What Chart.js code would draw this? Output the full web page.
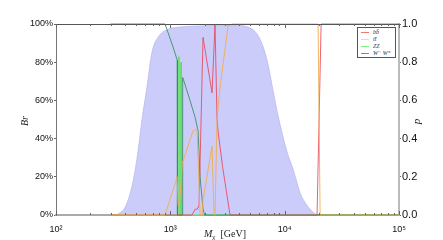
<!DOCTYPE html>
<html><head><meta charset="utf-8">
<script src="https://cdn.jsdelivr.net/npm/chart.js@4/dist/chart.umd.min.js"></script>
<style>
html,body{margin:0;padding:0;background:#fff;}
#wrap{position:relative;width:443px;height:240px;overflow:hidden;}
canvas{display:block;}
.t{position:absolute;font-family:"Liberation Serif","DejaVu Serif",serif;color:#222;white-space:nowrap;line-height:1;}
#legend{position:absolute;left:357px;top:27px;width:39px;height:31px;border:1px solid #555;background:#fff;box-sizing:border-box;}
#legend .row{position:absolute;left:0;height:7px;width:100%;}
#legend .ln{position:absolute;left:3px;top:3px;width:8px;height:1px;}
#legend .lb{position:absolute;left:15px;top:0;font-family:"Liberation Serif","DejaVu Serif",serif;font-style:italic;font-size:6px;line-height:7px;color:#333;white-space:nowrap;}
</style></head><body>
<div id="wrap"><canvas id="c" width="443" height="240"></canvas>
<div class="t" style="left:204px;top:229px;font-size:10px;"><i>M</i><sub style="font-size:7px;vertical-align:-2px">χ</sub>&nbsp;&nbsp;[GeV]</div>
<div class="t" style="left:20px;top:116px;font-size:10px;transform:rotate(-90deg);"><i>Br</i></div>
<div class="t" style="left:414px;top:116px;font-size:11px;transform:rotate(-90deg);"><i>p</i></div>
<div id="legend">
 <div class="row" style="top:1px"><div class="ln" style="background:#f07a7a"></div><div class="lb">bb̄</div></div>
 <div class="row" style="top:8px"><div class="ln" style="background:#ffd890"></div><div class="lb">tt̄</div></div>
 <div class="row" style="top:15px"><div class="ln" style="background:#7cf27c"></div><div class="lb">ZZ</div></div>
 <div class="row" style="top:22px"><div class="ln" style="background:#4fae5a"></div><div class="lb">W⁻ W⁺</div></div>
</div>
</div>
<script>
// ---- data (mass in GeV, branching ratio in %, p in [0,1]) ----
const pMass  = [342, 402, 462, 521, 565, 625, 690, 780, 935, 1291, 1820, 3327, 4977, 6092, 7015, 7925, 8754, 10495, 11838, 13096, 13640, 15709, 17700, 19190];
const pValue = [0, 0.04, 0.15, 0.33, 0.50, 0.67, 0.85, 0.93, 0.97, 0.985, 0.99, 0.995, 0.98, 0.92, 0.81, 0.65, 0.52, 0.33, 0.24, 0.15, 0.115, 0.05, 0.015, 0];

const bbMass = [300, 1548, 1650, 1714, 1783, 1932, 2316, 2460, 2562, 2613, 2870, 3327, 19190, 20840, 100000];
const bbBr   = [0, 0, 3, 3, 5, 93, 64, 100, 50, 44, 25, 0, 0, 100, 100];

const ttMass = [300, 899, 1122, 1146, 1170, 1220, 1270, 1580, 1714, 1820, 1894, 1932, 2316, 2412, 2460, 2562, 2722, 3199, 3467, 18840, 19600, 20420, 100000];
const ttBr   = [0, 0, 18, 20, 5, 10, 27, 44, 45, 0, 0, 8, 36, 0, 0, 50, 67, 99, 100, 100, 100, 0, 0];

const zzMass = [300, 1185, 1190, 1195, 1236, 1241, 1246, 100000];
const zzBr   = [0, 0, 83, 0, 0, 80, 0, 0];

const wwMass = [300, 899, 1056, 1150, 1154, 1278, 1282, 1300, 1486, 1650, 1748, 1820, 1932, 1995, 100000];
const wwBr   = [100, 100, 88, 81, 0, 0, 72, 71, 60, 51, 44, 20, 3, 0, 0];

const xTickValues = [];
for (let e = 2; e <= 4; e++) for (let m = 1; m <= 9; m++) xTickValues.push(m * Math.pow(10, e));
xTickValues.push(100000);
const xMajorLabels = {100: '10²', 1000: '10³', 10000: '10⁴', 100000: '10⁵'};
const brTicks = [0, 20, 40, 60, 80, 100];
const pTicks = [0, 0.2, 0.4, 0.6, 0.8, 1.0];

const pts = (xs, ys) => xs.map((x, i) => ({x: x, y: ys[i]}));

const frame = {
  id: 'frame',
  afterDatasetsDraw(chart) {
    const ctx = chart.ctx, ca = chart.chartArea, xs = chart.scales.x;
    ctx.save();
    ctx.strokeStyle = '#555';
    ctx.lineWidth = 1;
    ctx.beginPath();
    ctx.moveTo(ca.left, ca.top + 0.5); ctx.lineTo(ca.right, ca.top + 0.5);
    ctx.stroke();
    ctx.strokeStyle = '#666';
    ctx.beginPath();
    xTickValues.forEach(v => {
      const px = Math.round(xs.getPixelForValue(v)) + 0.5;
      const len = xMajorLabels[v] ? 4 : 2;
      ctx.moveTo(px, ca.top); ctx.lineTo(px, ca.top + len);
      ctx.moveTo(px, ca.bottom); ctx.lineTo(px, ca.bottom - len);
    });
    ctx.stroke();
    ctx.restore();
  }
};

const lineDs = (label, xs, ys, color) => ({
  label, data: pts(xs, ys), borderColor: color, borderWidth: 1, pointRadius: 0,
  fill: false, yAxisID: 'y', xAxisID: 'x', tension: 0, clip: 3, order: 1
});

new Chart(document.getElementById('c'), {
  type: 'line',
  data: {
    datasets: [
      {label: 'p', data: pts(pMass, pValue), yAxisID: 'y2', xAxisID: 'x', fill: 'origin',
       backgroundColor: 'rgb(204,204,250)', borderColor: 'rgb(180,180,236)', borderWidth: 0.7,
       pointRadius: 0, cubicInterpolationMode: 'monotone', order: 10, clip: 0},
      lineDs('tt', ttMass, ttBr, 'rgba(242,172,80,0.9)'),
      lineDs('bb', bbMass, bbBr, 'rgba(230,70,90,0.85)'),
      lineDs('WW', wwMass, wwBr, 'rgba(50,140,90,0.85)'),
      lineDs('ZZ', zzMass, zzBr, 'rgba(80,230,80,0.9)')
    ]
  },
  options: {
    responsive: false, animation: false, devicePixelRatio: 1,
    layout: {padding: {top: 24, left: 0, right: 0, bottom: 0}},
    plugins: {legend: {display: false}, tooltip: {enabled: false}},
    scales: {
      x: {
        type: 'logarithmic', min: 100, max: 100000,
        afterBuildTicks: s => { s.ticks = xTickValues.map(v => ({value: v, major: !!xMajorLabels[v]})); },
        afterFit: s => { s.height = 25; },
        grid: {display: false},
        border: {color: '#aaa', width: 2},
        ticks: {autoSkip: false, maxRotation: 0, padding: 1, color: '#111',
          font: {size: 9, family: 'Liberation Sans'},
          callback: v => xMajorLabels[v] || ''}
      },
      y: {
        position: 'left', min: 0, max: 100,
        afterBuildTicks: s => { s.ticks = brTicks.map(v => ({value: v})); },
        afterFit: s => { s.width = 56; },
        grid: {drawOnChartArea: false, tickLength: 2, color: '#666'},
        border: {color: '#777', width: 1},
        ticks: {padding: 1, color: '#111', font: {size: 9, family: 'Liberation Sans'},
          callback: v => v + '%'}
      },
      y2: {
        position: 'right', min: 0, max: 1,
        afterBuildTicks: s => { s.ticks = pTicks.map(v => ({value: v})); },
        afterFit: s => { s.width = 44; },
        grid: {drawOnChartArea: false, tickLength: 2, color: '#666'},
        border: {color: '#bbb', width: 2},
        ticks: {padding: 1, color: '#111', font: {size: 11, family: 'Liberation Sans'},
          callback: v => v.toFixed(1)}
      }
    }
  },
  plugins: [frame]
});
</script>
</body></html>
